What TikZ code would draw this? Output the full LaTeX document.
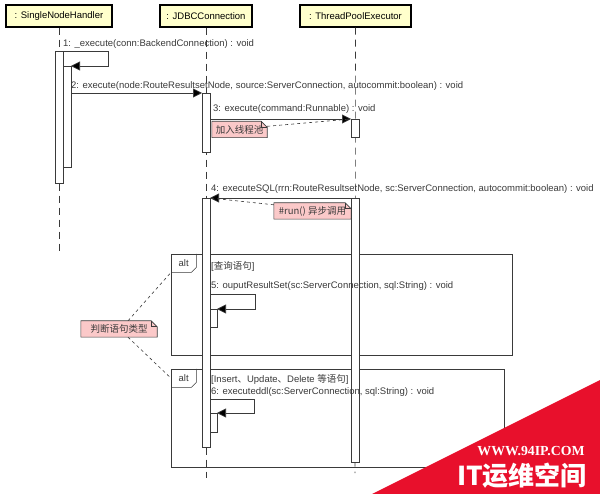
\documentclass[tikz,border=0pt]{standalone}
\usepackage{fontspec}
\setmainfont{Liberation Sans}
\newfontfamily\cjk{Noto Sans CJK SC}
\newfontfamily\wmserif{Liberation Serif}
\usetikzlibrary{positioning,arrows.meta,calc,backgrounds}
\definecolor{seqyellow}{HTML}{FFFFCC}
\definecolor{seqline}{HTML}{3A3A3A}
\definecolor{notepink}{HTML}{FBC9C9}
\definecolor{wmred}{HTML}{E8102C}

\tikzset{
  lifebox/.style={draw=black, line width=1.2pt, fill=seqyellow, minimum height=22pt, inner sep=0pt},
  lifeline/.style={draw=seqline, dash pattern=on 7pt off 5pt, line width=0.6pt},
  actbar/.style={draw=seqline, fill=white, line width=0.6pt, anchor=north, minimum width=8pt, inner sep=0pt, outer sep=0pt},
  msg/.style={draw=seqline, line width=0.7pt, -{Triangle[length=9pt,width=9pt,fill=black]}},
  msglabel/.style={anchor=west, inner sep=0pt, text=seqline},
  notebox/.style={inner sep=0pt, minimum height=16pt, text=seqline},
  notelink/.style={draw=seqline, dashed, line width=0.6pt},
  altframe/.style={draw=seqline, line width=0.6pt},
  alttag/.style={inner sep=0pt, minimum width=25pt, minimum height=18pt, anchor=north west, text=seqline}
}

\begin{document}
\begin{tikzpicture}[x=1pt, y=-1pt, font=\fontsize{9.5}{11}\selectfont]
  \useasboundingbox (0,0) rectangle (600,494);

  % lifelines
  \node[lifebox, minimum width=106pt] (snh) at (59,16) {: SingleNodeHandler};
  \node[lifebox, minimum width=92pt] (jdbc) at (206,16) {: JDBCConnection};
  \node[lifebox, minimum width=111pt] (tpe) at (355.5,16) {: ThreadPoolExecutor};
  \coordinate (snhend) at (59,252);
  \coordinate (jdbcend) at (206,478);
  \coordinate (tpeend) at (355,473);
  \draw[lifeline] (snh.south) -- (snhend);
  \draw[lifeline] (jdbc.south) -- (jdbcend);
  \draw[lifeline] (tpe.south) -- (tpeend);

  % alt frames
  \draw[altframe] (171,254) rectangle (512,355);
  \draw[altframe] (171,369) rectangle (504,467);
  \node[alttag] (alt1) at (171,254) {alt};
  \node[alttag] (alt2) at (171,369) {alt};
  \foreach \t in {alt1,alt2}
    \draw[altframe] (\t.north east) -- ([yshift=5pt]\t.south east) -- ([xshift=-5pt]\t.south east) -- (\t.south west);

  % activations
  \node[actbar, minimum height=132pt] (snhout) at (59,51) {};
  \node[actbar, minimum height=101pt] (snhin) at (67,66) {};
  \node[actbar, minimum height=59pt] (jdbc1) at (206,93) {};
  \node[actbar, minimum height=18pt] (tpe1) at (355,119) {};
  \node[actbar, minimum height=249pt] (jdbc2) at (206,198) {};
  \node[actbar, minimum height=264pt] (tpe2) at (355,198) {};
  \node[actbar, minimum width=7pt, minimum height=18pt] (self5) at (213.5,309) {};
  \node[actbar, minimum width=7pt, minimum height=19pt] (self6) at (213.5,413) {};

  % messages
  \draw[msg] (snhout.north east) -- ++(45,0) |- (snhin.north east);
  \draw[msg] (snhin.east |- jdbc1.north) -- (jdbc1.north west);
  \draw[msg] (jdbc1.east |- tpe1.north) -- (tpe1.north west);
  \draw[msg] (tpe2.north west) -- (jdbc2.north east);
  \draw[msg] ($(self5.north west)+(0,-15)$) -- ++(45,0) |- (self5.north east);
  \draw[msg] ($(self6.north west)+(0,-14)$) -- ++(44,0) |- (self6.north east);

  \node[msglabel] (lbl1) at (63,44) {1: \_execute(conn:BackendConnection) : void};
  \node[msglabel] (lbl2) at (71,86) {2: execute(node:RouteResultsetNode, source:ServerConnection, autocommit:boolean) : void};
  \node[msglabel] (lbl3) at (213,109) {3: execute(command:Runnable) : void};
  \node[msglabel] (lbl4) at (211,189) {4: executeSQL(rrn:RouteResultsetNode, sc:ServerConnection, autocommit:boolean) : void};
  \node[msglabel] (guard1) at (211,266) {[{\cjk 查询语句}]};
  \node[msglabel] (lbl5) at (211,286) {5: ouputResultSet(sc:ServerConnection, sql:String) : void};
  \node[msglabel] (guard2) at (211,379) {[Insert{\cjk 、}Update{\cjk 、}Delete {\cjk 等语句}]};
  \node[msglabel] (lbl6) at (211,392) {6: executeddl(sc:ServerConnection, sql:String) : void};

  % notes
  \node[notebox, minimum width=55pt] (notepool) at (239.5,129.5) {\cjk 加入线程池};
  \node[notebox, minimum width=77pt] (noterun) at (312.5,211) {\cjk \#run() 异步调用};
  \node[notebox, minimum width=76pt] (notejudge) at (119,329) {\cjk 判断语句类型};
  \begin{pgfonlayer}{background}
    \foreach \n in {notepool,noterun,notejudge} {
      \filldraw[draw=seqline, fill=notepink, line width=0.6pt] (\n.south west) -- (\n.north west) -- ([xshift=-6pt]\n.north east) -- ([yshift=-6pt]\n.north east) -- (\n.south east) -- cycle;
      \draw[seqline, line width=0.6pt] ([xshift=-6pt]\n.north east) |- ([yshift=-6pt]\n.north east);
    }
  \end{pgfonlayer}
  \draw[notelink] ([yshift=-5pt]notepool.north east) -- (tpe1.north west);
  \draw[notelink] ([yshift=-2pt]noterun.north west) -- (jdbc2.north east);
  \draw[notelink] ([xshift=9pt]notejudge.north) -- (alt1.south west);
  \draw[notelink] ([xshift=9pt]notejudge.south) -- (alt2.west);

  % watermark
  \fill[wmred] (600,380) -- (600,494) -- (372,494) -- cycle;
  \node[text=white, font=\wmserif\bfseries\fontsize{13.8}{15}\selectfont] (wmurl) at (531,451) {WWW.94IP.COM};
  \node[text=white, font=\cjk\bfseries\fontsize{26}{28}\selectfont] (wmname) at (522,476) {IT运维空间};
\end{tikzpicture}
\end{document}
